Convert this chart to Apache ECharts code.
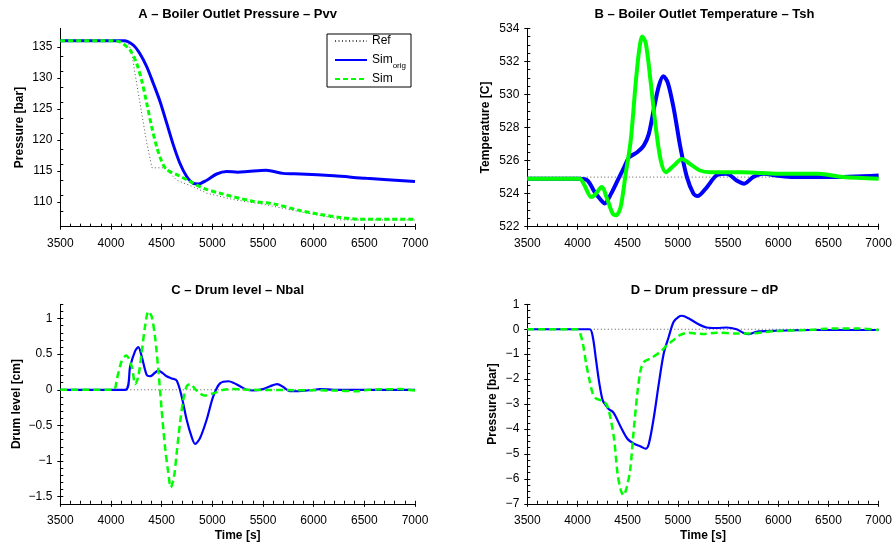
<!DOCTYPE html>
<html>
<head>
<meta charset="utf-8">
<script src="https://cdn.jsdelivr.net/npm/echarts@6/dist/echarts.min.js"></script>
<style>html,body{margin:0;padding:0;background:#fff;}#c{width:895px;height:546px;}</style>
</head>
<body>
<div id="c"></div>
<script>
// ---------- DATA ----------
const xTicks = [3500, 4000, 4500, 5000, 5500, 6000, 6500, 7000];

const A_ref_t  = [3500, 4160, 4204, 4237, 4270, 4303, 4353, 4405, 4530, 4649, 4846, 4945, 5200, 5540, 5870, 6200, 6260, 7000];
const A_ref_v  = [136, 136, 134.2, 130.7, 127.5, 124.3, 119.5, 115.5, 115.5, 113.5, 112.2, 111.4, 110.4, 109.5, 108.4, 107.4, 107.1, 107.1];
const A_orig_t = [3500, 4130, 4220, 4286, 4353, 4418, 4484, 4550, 4615, 4681, 4747, 4812, 4862, 4945, 5043, 5142, 5250, 5350, 5530, 5700, 5870, 6200, 6520, 7000];
const A_orig_v = [136, 136, 135.3, 133.9, 131.8, 129.1, 126.2, 122.7, 119.2, 116.2, 114.1, 113.0, 112.9, 113.5, 114.5, 114.9, 114.8, 114.9, 115.1, 114.6, 114.5, 114.2, 113.8, 113.3];
const A_sim_t  = [3500, 4020, 4089, 4188, 4254, 4303, 4353, 4402, 4451, 4501, 4550, 4649, 4780, 4911, 5076, 5400, 5600, 5865, 6060, 6260, 6460, 7000];
const A_sim_v  = [136, 136, 135.8, 134.5, 132.3, 129.6, 125.9, 122.1, 118.9, 116.5, 115.2, 114.4, 113.3, 112.2, 111.4, 110.1, 109.7, 108.6, 108, 107.5, 107.2, 107.2];

const B_ref_t  = [3500, 7000];
const B_ref_v  = [525, 525];
const B_orig_t = [3500, 4020, 4100, 4170, 4235, 4270, 4335, 4400, 4465, 4515, 4595, 4660, 4710, 4760, 4810, 4855, 4900, 4960, 5025, 5090, 5155, 5195, 5290, 5385, 5485, 5585, 5660, 5750, 5850, 5980, 6150, 6500, 7000];
const B_orig_v = [524.9, 524.9, 524.8, 524.1, 523.6, 523.4, 524.0, 524.8, 525.6, 526.2, 526.5, 526.9, 527.6, 529.1, 530.5, 531.1, 530.7, 529.1, 526.8, 525.0, 524.0, 523.85, 524.4, 525.1, 525.2, 524.8, 524.6, 525.0, 525.2, 525.1, 525.0, 525.0, 525.1];
const B_sim_t  = [3500, 4020, 4070, 4135, 4170, 4240, 4300, 4350, 4385, 4430, 4480, 4530, 4580, 4615, 4645, 4680, 4730, 4780, 4830, 4880, 4960, 5040, 5120, 5220, 5320, 5650, 6000, 6400, 6640, 7000];
const B_sim_v  = [524.9, 524.9, 524.5, 523.8, 523.9, 524.4, 523.6, 522.8, 522.7, 523.2, 525.2, 527.2, 530.7, 532.7, 533.5, 533.1, 530.7, 528.0, 526.0, 525.3, 525.7, 526.1, 525.8, 525.4, 525.3, 525.3, 525.2, 525.2, 525.0, 524.9];

const C_ref_t  = [3500, 7000];
const C_ref_v  = [0, 0];
const C_orig_t = [3500, 4140, 4190, 4237, 4270, 4303, 4352, 4385, 4467, 4549, 4600, 4648, 4697, 4747, 4796, 4830, 4878, 4944, 5010, 5076, 5160, 5207, 5273, 5340, 5405, 5500, 5570, 5640, 5700, 5766, 5832, 6000, 6062, 6200, 7000];
const C_orig_v = [0, 0, 0.33, 0.54, 0.60, 0.47, 0.21, 0.19, 0.27, 0.19, 0.16, 0.13, -0.09, -0.42, -0.66, -0.76, -0.68, -0.42, -0.09, 0.09, 0.12, 0.10, 0.05, 0, -0.01, 0.01, 0.05, 0.08, 0.04, -0.02, -0.02, 0, 0.01, 0, 0];
const C_sim_t  = [3500, 4025, 4056, 4105, 4150, 4204, 4240, 4270, 4303, 4336, 4370, 4401, 4434, 4467, 4500, 4533, 4566, 4590, 4622, 4648, 4681, 4714, 4747, 4780, 4845, 4920, 5010, 5110, 5210, 5400, 6200, 6420, 6550, 6850, 7000];
const C_sim_v  = [0, 0, 0.14, 0.40, 0.48, 0.33, 0.08, 0.19, 0.52, 0.89, 1.10, 1.03, 0.75, 0.28, -0.28, -0.80, -1.17, -1.37, -1.22, -0.89, -0.47, -0.14, 0.05, 0.08, -0.01, -0.08, -0.05, 0, 0.01, 0, -0.01, -0.02, 0, 0.01, -0.01];

const D_ref_t  = [3500, 7000];
const D_ref_v  = [0, 0];
const D_orig_t = [3500, 4120, 4152, 4185, 4218, 4251, 4283, 4310, 4360, 4431, 4497, 4563, 4629, 4678, 4711, 4761, 4810, 4859, 4909, 4958, 5007, 5040, 5106, 5188, 5287, 5386, 5485, 5584, 5650, 5705, 5781, 5979, 6308, 6637, 7000];
const D_orig_v = [0, 0, -0.30, -1.24, -2.18, -2.85, -3.05, -3.2, -3.35, -3.92, -4.39, -4.59, -4.70, -4.79, -4.59, -3.52, -2.18, -0.97, -0.30, 0.30, 0.50, 0.54, 0.44, 0.24, 0.07, 0.05, 0.07, 0, -0.14, -0.2, -0.10, -0.06, -0.03, -0.03, -0.03];
const D_sim_t  = [3500, 3990, 4020, 4053, 4086, 4119, 4152, 4185, 4234, 4267, 4300, 4333, 4366, 4399, 4432, 4458, 4491, 4524, 4557, 4596, 4629, 4662, 4728, 4826, 4892, 4958, 5024, 5106, 5188, 5254, 5386, 5584, 5715, 5979, 6308, 6472, 6801, 7000];
const D_sim_v  = [0, 0, -0.10, -0.57, -1.37, -2.04, -2.58, -2.78, -2.85, -2.91, -3.11, -3.65, -4.45, -5.79, -6.46, -6.66, -6.33, -5.66, -4.19, -2.58, -1.64, -1.31, -1.17, -0.90, -0.64, -0.43, -0.23, -0.14, -0.17, -0.19, -0.14, -0.17, -0.17, -0.07, -0.03, 0.02, 0.03, -0.03];

const A_yTicks = [110, 115, 120, 125, 130, 135];
const B_yTicks = [522, 524, 526, 528, 530, 532, 534];
const C_yTicks = [-1.5, -1, -0.5, 0, 0.5, 1];
const D_yTicks = [-7, -6, -5, -4, -3, -2, -1, 0, 1];

const titles = ['A \u2013 Boiler Outlet Pressure \u2013 Pvv', 'B \u2013 Boiler Outlet Temperature \u2013 Tsh',
                'C \u2013 Drum level \u2013 Nbal', 'D \u2013 Drum pressure \u2013 dP'];
const yNames = ['Pressure [bar]', 'Temperature [C]', 'Drum level [cm]', 'Pressure [bar]'];

// ---------- LAYOUT ----------
const FONT = 'Liberation Sans, Arial, Helvetica, sans-serif';
const grids = [
  {left: 60.3, top: 28.3, width: 354.7, height: 198.4},
  {left: 527.3, top: 28.3, width: 354.4, height: 198.4},
  {left: 60.3, top: 304.3, width: 354.7, height: 199.5},
  {left: 527.3, top: 304.3, width: 354.4, height: 199.5}
];
const panels = [
  {min: 106, max: 138, ticks: A_yTicks, minor: 2.5, nameGap: 35},
  {min: 522, max: 534, ticks: B_yTicks, minor: 0.5, nameGap: 36},
  {min: -1.6, max: 1.2, ticks: C_yTicks, minor: 0.1, nameGap: 37.5},
  {min: -7, max: 1, ticks: D_yTicks, minor: 0.25, nameGap: 29}
];
function range(a, b, s) {
  const out = [];
  const n = Math.round((b - a) / s);
  for (let i = 0; i <= n; i++) out.push(Math.round((a + i * s) * 1000) / 1000);
  return out;
}
const xMinorTicks = range(3500, 7000, 100);
function fmt(v) { return String(v).replace('-', '\u2212'); }
function zip(t, v) { return t.map((x, i) => [x, v[i]]); }

const xAxis = [], yAxis = [], series = [], title = [];
grids.forEach((g, i) => {
  const p = panels[i];
  const bottom = i >= 2;
  title.push({text: titles[i], left: g.left + g.width / 2, top: g.top - 20, textAlign: 'center', padding: 0,
    textStyle: {fontFamily: FONT, fontSize: 13, fontWeight: 'bold', color: '#000'}});
  xAxis.push({gridIndex: i, type: 'value', min: 3500, max: 7000,
    axisLine: {show: true, onZero: false, lineStyle: {color: '#000', width: 1}},
    axisTick: {show: true, customValues: xTicks, length: 3, inside: false, lineStyle: {color: '#000'}},
    axisLabel: {show: true, customValues: xTicks, margin: 11, color: '#000', fontFamily: FONT, fontSize: 12, formatter: fmt},
    splitLine: {show: false},
    name: bottom ? 'Time [s]' : '', nameLocation: 'middle', nameGap: 26,
    nameTextStyle: {fontFamily: FONT, fontSize: 12, fontWeight: 'bold', color: '#000'}});
  xAxis.push({gridIndex: i, type: 'value', min: 3500, max: 7000, position: 'bottom',
    axisLine: {show: false, onZero: false},
    axisTick: {show: true, customValues: xMinorTicks, length: 3, inside: true, lineStyle: {color: '#000'}},
    axisLabel: {show: false}, splitLine: {show: false}});
  const minorY = range(p.min, p.max, p.minor);
  yAxis.push({gridIndex: i, type: 'value', min: p.min, max: p.max, position: 'left',
    axisLine: {show: true, onZero: false, lineStyle: {color: '#000', width: 1}},
    axisTick: {show: true, customValues: p.ticks, length: 3, inside: false, lineStyle: {color: '#000'}},
    axisLabel: {show: true, customValues: p.ticks, margin: 8, color: '#000', fontFamily: FONT, fontSize: 12, formatter: fmt},
    splitLine: {show: false},
    name: yNames[i], nameLocation: 'middle', nameGap: p.nameGap,
    nameTextStyle: {fontFamily: FONT, fontSize: 12, fontWeight: 'bold', color: '#000'}});
  yAxis.push({gridIndex: i, type: 'value', min: p.min, max: p.max, position: 'left', offset: 0,
    axisLine: {show: false, onZero: false},
    axisTick: {show: true, customValues: minorY, length: 3, inside: true, lineStyle: {color: '#000'}},
    axisLabel: {show: false}, splitLine: {show: false}});
});

const sets = [
  [A_ref_t, A_ref_v, A_orig_t, A_orig_v, A_sim_t, A_sim_v],
  [B_ref_t, B_ref_v, B_orig_t, B_orig_v, B_sim_t, B_sim_v],
  [C_ref_t, C_ref_v, C_orig_t, C_orig_v, C_sim_t, C_sim_v],
  [D_ref_t, D_ref_v, D_orig_t, D_orig_v, D_sim_t, D_sim_v]
];
const blueW = [3, 4, 2.2, 2.2];
const greenW = [3, 4, 2.5, 2.5];
const greenType = [[5, 3], 'solid', [7, 4], [7, 4]];
sets.forEach((s, i) => {
  const common = {type: 'line', xAxisIndex: 2 * i, yAxisIndex: 2 * i, symbol: 'none', silent: true, animation: false};
  series.push(Object.assign({}, common, {name: 'Ref', data: zip(s[0], s[1]), smooth: false,
    lineStyle: {color: '#555', width: 1, type: [1, 2.5]}, itemStyle: {color: '#555'}, z: 1}));
  series.push(Object.assign({}, common, {name: 'Sim_orig', data: zip(s[2], s[3]), smooth: 0.3,
    lineStyle: {color: '#0000ff', width: blueW[i]}, itemStyle: {color: '#0000ff'}, z: 2}));
  series.push(Object.assign({}, common, {name: 'Sim', data: zip(s[4], s[5]), smooth: 0.3,
    lineStyle: {color: '#00ff00', width: greenW[i], type: greenType[i]}, itemStyle: {color: '#00ff00'}, z: 3}));
});

const chart = echarts.init(document.getElementById('c'), null, {renderer: 'canvas'});
chart.setOption({
  backgroundColor: '#fff',
  animation: false,
  title: title,
  grid: grids.map(g => Object.assign({containLabel: false}, g)),
  xAxis: xAxis,
  yAxis: yAxis,
  legend: {
    data: ['Ref', 'Sim_orig', 'Sim'],
    orient: 'vertical', left: 327, top: 34,
    itemWidth: 32, itemHeight: 10, itemGap: 3,
    padding: [1, 5, 2, 7],
    borderColor: '#000', borderWidth: 1,
    backgroundColor: '#fff',
    selectedMode: false,
    itemStyle: {opacity: 0, borderWidth: 0, color: 'rgba(0,0,0,0)'},
    formatter: function (n) { return n === 'Sim_orig' ? 'Sim{sub|orig}' : n; },
    textStyle: {fontFamily: FONT, fontSize: 12, color: '#000',
      rich: {sub: {fontFamily: FONT, fontSize: 8, color: '#000', lineHeight: 8, padding: [12, 0, 0, 0]}}}
  },
  series: series
});
</script>
</body>
</html>
